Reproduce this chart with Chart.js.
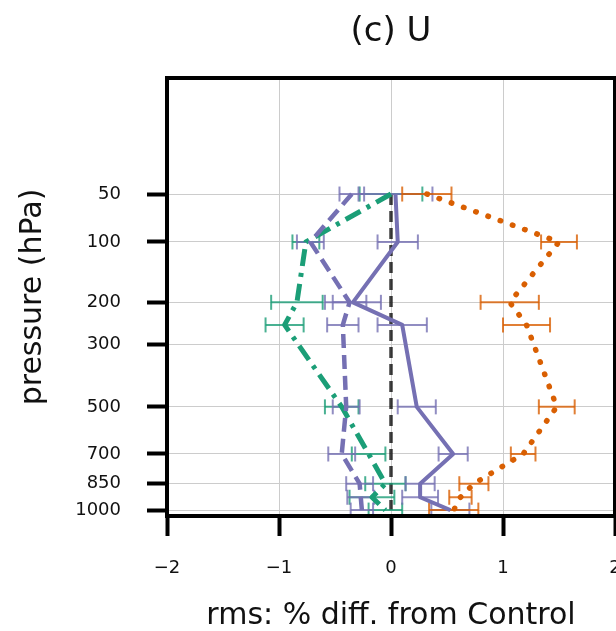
<!DOCTYPE html>
<html><head><meta charset="utf-8">
<script src="https://cdn.jsdelivr.net/npm/chart.js@4"></script>
<style>html,body{margin:0;padding:0;background:#fff;overflow:hidden}</style>
</head><body>
<canvas id="c" width="616" height="631"></canvas>
<script>
// pressure levels (hPa)
const levels = [50, 100, 200, 250, 500, 700, 850, 925, 1000];
// series values (rms % diff from Control) and error half-widths
const greenVals      = [0.00, -0.76, -0.84, -0.95, -0.44, -0.20, -0.05, -0.17, -0.05];
const greenErr       = [0.28, 0.12, 0.23, 0.17, 0.15, 0.15, 0.18, 0.20, 0.15];
const purpleDashVals = [-0.35, -0.72, -0.37, -0.43, -0.40, -0.44, -0.28, -0.27, -0.26];
const purpleDashErr  = [0.11, 0.12, 0.15, 0.14, 0.12, 0.12, 0.12, 0.12, 0.10];
const purpleVals     = [0.04, 0.06, -0.34, 0.10, 0.23, 0.555, 0.26, 0.26, 0.53];
const purpleErr      = [0.33, 0.18, 0.25, 0.22, 0.17, 0.13, 0.13, 0.16, 0.17];
const orangeVals     = [0.32, 1.50, 1.06, 1.21, 1.48, 1.18, 0.74, 0.62, 0.56];
const orangeErr      = [0.22, 0.16, 0.26, 0.21, 0.16, 0.11, 0.13, 0.10, 0.22];
const zeroLevels     = [50, 1000];
const zeroVals       = [0, 0];
// tick labels
const yTickValues = [50, 100, 200, 300, 500, 700, 850, 1000];
const yTickLabels = ['50', '100', '200', '300', '500', '700', '850', '1000'];
const xTickLabels = ['\u22122', '\u22121', '0', '1', '2'];

const tf = p => Math.cbrt(p); // pressure axis spacing

const GREEN = '#1b9e77', PURPLE = '#7570b3', ORANGE = '#d95f02';
function alpha(hex, a) {
  const n = parseInt(hex.slice(1), 16);
  return `rgba(${n >> 16},${(n >> 8) & 255},${n & 255},${a})`;
}
function lineData(vals, lv) { return vals.map((v, i) => ({x: v, y: tf(lv[i])})); }
function errData(vals, errs) {
  const out = [];
  vals.forEach((v, i) => {
    const y = tf(levels[i]);
    out.push({x: v - errs[i], y}, {x: v + errs[i], y}, {x: v, y: null});
  });
  return out;
}
function errSet(vals, errs, color, order) {
  return {
    data: errData(vals, errs), showLine: true, spanGaps: false,
    borderColor: alpha(color, 0.8), borderWidth: 2,
    pointStyle: 'line', rotation: 90, pointRadius: 7.5,
    pointBorderColor: alpha(color, 0.8), pointBorderWidth: 2, pointBackgroundColor: 'transparent',
    order
  };
}
function mainSet(vals, color, width, dash, order, cap) {
  return {
    data: lineData(vals, levels), showLine: true, borderColor: color, borderWidth: width,
    borderDash: dash, borderCapStyle: cap || 'butt', borderJoinStyle: 'round', pointRadius: 0, tension: 0, order
  };
}

const spines = {
  id: 'spines',
  afterDatasetsDraw(chart) {
    const {ctx, chartArea: a} = chart;
    ctx.save();
    ctx.strokeStyle = '#000'; ctx.lineWidth = 4;
    ctx.strokeRect(a.left, a.top, a.right - a.left, a.bottom - a.top);
    ctx.restore();
  }
};

new Chart(document.getElementById('c'), {
  type: 'scatter',
  data: {
    datasets: [
      {data: lineData(zeroVals, zeroLevels), showLine: true, borderColor: 'rgba(0,0,0,0.75)', borderWidth: 3.5,
       borderDash: [11, 6], pointRadius: 0, order: 10},
      errSet(greenVals, greenErr, GREEN, 9),
      errSet(purpleDashVals, purpleDashErr, PURPLE, 8),
      errSet(purpleVals, purpleErr, PURPLE, 7),
      errSet(orangeVals, orangeErr, ORANGE, 6),
      mainSet(greenVals, GREEN, 5, [17, 7, 4, 7], 5),
      mainSet(purpleDashVals, PURPLE, 4.5, [14, 7], 4),
      mainSet(purpleVals, PURPLE, 4, [], 3),
      mainSet(orangeVals, ORANGE, 5.5, [0.5, 12.5], 2, 'round')
    ]
  },
  options: {
    responsive: false, animation: false, events: [],
    layout: {autoPadding: false, padding: {left: 0, right: 1, top: 0, bottom: 0}},
    plugins: {
      legend: {display: false}, tooltip: {enabled: false},
      title: {display: true, text: '(c) U', fullSize: false, color: '#111',
              font: {family: 'DejaVu Sans', size: 34, weight: 'normal'},
              padding: {top: 12, bottom: 25.2}}
    },
    scales: {
      x: {
        type: 'linear', position: 'bottom', min: -2, max: 2,
        afterFit: s => { s.height = 115; s.paddingLeft = 0; s.paddingRight = 0; },
        ticks: {stepSize: 1, color: '#111', padding: 22, font: {family: 'DejaVu Sans', size: 18},
                callback: (v, i) => xTickLabels[i]},
        grid: {color: '#cccccc', lineWidth: 1, tickColor: '#000', tickWidth: 4, tickLength: 20},
        border: {display: false},
        title: {display: true, text: 'rms: % diff. from Control', color: '#111',
                font: {family: 'DejaVu Sans', size: 30}, padding: {top: 0, bottom: -3}}
      },
      y: {
        type: 'linear', position: 'left', reverse: true, min: 1.3654, max: 10.118,
        afterBuildTicks: s => { s.ticks = yTickValues.map(p => ({value: tf(p)})); },
        afterFit: s => { s.width = 167; s.paddingTop = 0; s.paddingBottom = 0; },
        ticks: {autoSkip: false, color: '#111', padding: 26, font: {family: 'DejaVu Sans', size: 18},
                callback: (v, i) => yTickLabels[i]},
        grid: {color: '#cccccc', lineWidth: 1, tickColor: '#000', tickWidth: 4, tickLength: 20},
        border: {display: false},
        title: {display: true, text: 'pressure (hPa)', color: '#111',
                font: {family: 'DejaVu Sans', size: 30}, padding: {top: 15, bottom: 0}}
      }
    }
  },
  plugins: [spines]
});
</script>
</body></html>
